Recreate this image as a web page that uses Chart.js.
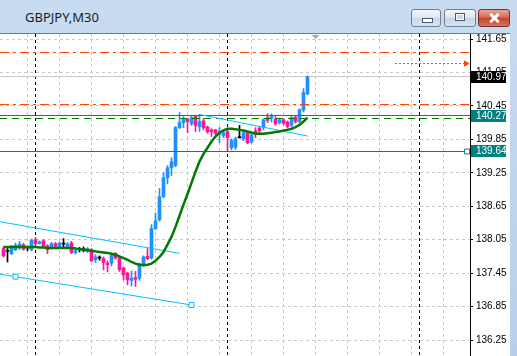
<!DOCTYPE html>
<html><head><meta charset="utf-8">
<script src="https://cdn.jsdelivr.net/npm/chart.js@4.4.1/dist/chart.umd.min.js"></script>
<style>
html,body{margin:0;padding:0;}
body{width:517px;height:356px;overflow:hidden;position:relative;background:linear-gradient(#c8dcf1,#b7cfe9);}
#title{position:absolute;left:25px;top:9px;font-size:13px;line-height:16px;color:#1b1b1b;font-family:"Noto Sans","Open Sans",sans-serif;}
.btn{position:absolute;top:9px;height:18px;border:1px solid #707f94;border-radius:3px;box-sizing:border-box;background:linear-gradient(#f4f7fb,#dce6f1 50%,#c6d5e7 51%,#d9e4f1);}
#bmin{left:411px;width:30px;}
#bmax{left:444px;width:32px;}
#bclose{left:478px;width:32px;border-color:#7a2e24;background:linear-gradient(#eba597,#d4654f 50%,#c2432d 51%,#da735b);}
.g1{position:absolute;left:10px;top:8px;width:9px;height:3px;background:#fff;border:1px solid #4a5a70;box-sizing:content-box;}
.g2{position:absolute;left:10px;top:3px;width:8px;height:6px;border:1px solid #4a5a70;background:#fff;}
.g2 i{position:absolute;left:1px;top:1px;width:6px;height:4px;background:#c9d6e6;}
.x1,.x2{position:absolute;left:14px;top:2px;width:3px;height:12px;background:#fff;border-radius:1px;}
.x1{transform:rotate(45deg);} .x2{transform:rotate(-45deg);}
#wrap{position:absolute;left:0;top:33px;width:510px;height:323px;background:#fff;border-top:1px solid #6f7b8a;box-sizing:border-box;}
#wrap canvas{position:absolute;left:0;top:0;}
</style>
</head>
<body>
<div id="title">GBPJPY,M30</div>
<div class="btn" id="bmin"><div class="g1"></div></div>
<div class="btn" id="bmax"><div class="g2"><i></i></div></div>
<div class="btn" id="bclose"><div class="x1"></div><div class="x2"></div></div>
<div id="wrap"><canvas id="c" width="510" height="322"></canvas></div>
<script>
// ---- data (M30 bars, oldest -> newest) ----
const opens  = [137.89,137.84,137.80,137.87,137.93,137.96,137.90,137.87,138.05,137.98,
                138.03,137.94,137.90,137.98,137.92,137.97,137.92,137.99,137.82,137.87,
                137.87,137.84,137.87,137.69,137.72,137.71,137.63,137.63,137.80,137.72,
                137.54,137.45,137.32,137.37,137.36,137.60,137.75,137.72,138.25,138.41,
                138.82,139.16,139.34,139.38,140.06,140.15,140.21,140.13,140.26,140.08,
                140.18,140.07,140.02,140.02,139.94,139.92,139.99,139.70,139.71,139.88,
                139.86,139.97,139.80,140.00,140.05,140.06,140.24,140.23,140.21,140.15,
                140.20,140.16,140.10,140.25,140.17,140.38,140.67];
const highs  = [137.92,137.90,137.95,137.99,138.02,137.98,137.93,138.06,138.09,138.03,
                138.05,137.96,138.00,138.00,138.01,138.07,138.00,138.02,137.87,137.91,
                137.92,137.91,137.89,137.78,137.76,137.74,137.67,137.80,137.82,137.74,
                137.56,137.47,137.49,137.48,137.63,137.76,137.89,138.32,138.53,138.97,
                139.25,139.38,139.52,140.08,140.33,140.26,140.23,140.27,140.28,140.30,
                140.22,140.09,140.04,140.03,140.06,140.00,140.01,139.86,139.89,140.10,
                140.00,139.99,139.95,140.06,140.08,140.22,140.31,140.31,140.26,140.23,
                140.22,140.18,140.26,140.28,140.40,140.76,140.99];
const lows   = [137.74,137.65,137.78,137.85,137.87,137.86,137.85,137.85,137.96,137.97,
                137.92,137.80,137.88,137.91,137.90,137.91,137.90,137.80,137.79,137.83,
                137.83,137.82,137.66,137.64,137.68,137.51,137.47,137.58,137.70,137.48,
                137.33,137.24,137.22,137.21,137.32,137.58,137.69,137.70,138.23,138.38,
                138.80,139.05,139.20,139.36,140.04,140.06,139.97,140.10,139.99,139.99,
                140.02,139.96,139.90,139.93,139.79,139.88,139.66,139.66,139.67,139.87,
                139.83,139.77,139.78,139.88,139.97,140.02,140.15,140.16,140.10,140.12,
                140.11,140.05,140.08,140.14,140.15,140.34,140.65];
const closes = [137.76,137.84,137.92,137.95,137.97,137.88,137.90,138.04,137.98,138.01,
                137.93,137.87,137.98,137.93,137.99,137.97,137.97,137.82,137.85,137.87,
                137.87,137.89,137.67,137.74,137.72,137.64,137.60,137.78,137.72,137.51,
                137.42,137.33,137.36,137.34,137.61,137.74,137.71,138.25,138.39,138.82,
                139.16,139.34,139.45,140.06,140.15,140.22,140.17,140.24,140.10,140.17,
                140.06,139.99,139.99,139.96,139.99,139.97,139.88,139.83,139.86,139.88,
                139.97,139.79,139.93,139.97,140.00,140.20,140.19,140.26,140.13,140.20,
                140.14,140.08,140.24,140.17,140.38,140.69,140.97];
// moving average (green), one value per bar
const maValues = [137.92,137.92,137.92,137.92,137.92,137.92,137.92,137.92,137.92,137.91,
                  137.91,137.90,137.90,137.90,137.90,137.90,137.90,137.90,137.89,137.88,
                  137.87,137.86,137.85,137.84,137.83,137.82,137.81,137.80,137.78,137.75,
                  137.72,137.69,137.65,137.62,137.60,137.59,137.60,137.62,137.67,137.74,
                  137.83,137.96,138.10,138.28,138.48,138.68,138.87,139.07,139.27,139.45,
                  139.59,139.70,139.81,139.90,139.97,140.01,140.04,140.04,140.03,140.02,
                  140.01,139.99,139.97,139.95,139.95,139.95,139.96,139.97,139.98,139.99,
                  140.01,140.02,140.04,140.07,140.11,140.17,140.24];
const barIdx = opens.map((_, i) => i);

// price axis
const yTicks = [141.65,141.05,140.45,139.85,139.25,138.65,138.05,137.45,136.85,136.25];
const yRange = [135.963, 141.740];
const xRange = [-0.875, 116.625];            // visible bar-index window
const vGridIdx = [6,14,22,30,38,46,54,62,70,78,86,94,102,110];
const separatorIdx = [8,56,104];             // day separators
const shiftIdx = 78;

// drawn objects
const trendUpperIdx = [-0.875, 44],  trendUpperPx = [138.372, 137.805];
const trendLowerIdx = [-0.875, 3, 47], trendLowerPx = [137.432, 137.386, 136.878];
const trendRightIdx = [49, 76],      trendRightPx = [140.296, 139.910];
const orangeLevels = [141.40, 140.48];
const greenLevel = 140.23;
const tealLevels = [140.27, 139.64];
const bidLevel = 140.97;
const arrowIdx = [97.9, 115.6], arrowLevel = 141.21;
const axisMarks = [{v:140.97,bg:'#000000'},{v:140.27,bg:'#008080'},{v:139.64,bg:'#008080'}];

// ---- build ----
const BULL='#1E90FF', BEAR='#FF1493', DOJI='#000000';
const colorOf = i => closes[i]>opens[i]?BULL:(closes[i]<opens[i]?BEAR:DOJI);
const barColors = barIdx.map(colorOf);
const full = (v) => [{x:xRange[0],y:v},{x:xRange[1],y:v}];
const pts = (ix, pv) => ix.map((x,i)=>({x, y:pv[i]}));
const FONT = '"Liberation Sans", Arial, sans-serif';

const mtPlugin = {
  id:'mt',
  beforeDatasetsDraw(chart){
    const {ctx, chartArea:a, scales:{x,y}} = chart;
    ctx.save();
    ctx.lineWidth=1;
    ctx.strokeStyle='#c9c9c9'; ctx.setLineDash([3,3]);
    yTicks.forEach(v=>{const p=Math.round(y.getPixelForValue(v)-0.5)+0.5;
      ctx.beginPath();ctx.moveTo(a.left,p);ctx.lineTo(a.right,p);ctx.stroke();});
    vGridIdx.forEach(k=>{const p=Math.round(x.getPixelForValue(k)-0.5)+0.5;
      ctx.beginPath();ctx.moveTo(p,a.top);ctx.lineTo(p,a.bottom);ctx.stroke();});
    ctx.strokeStyle='#000'; ctx.setLineDash([3,3]);
    separatorIdx.forEach(k=>{const p=Math.round(x.getPixelForValue(k)-0.5)+0.5;
      ctx.beginPath();ctx.moveTo(p,a.top);ctx.lineTo(p,a.bottom);ctx.stroke();});
    const sx=x.getPixelForValue(shiftIdx);
    ctx.fillStyle='#a8a8a8';ctx.beginPath();ctx.moveTo(sx-4,a.top+1);ctx.lineTo(sx+4,a.top+1);ctx.lineTo(sx,a.top+5);ctx.closePath();ctx.fill();
    ctx.restore();
  },
  // snap horizontal level lines onto whole pixels so they stay crisp
  beforeDatasetDraw(chart, args){
    const ds = chart.data.datasets[args.index];
    if (ds.snapLevel === undefined) return;
    const p = chart.scales.y.getPixelForValue(ds.snapLevel);
    chart.ctx.save();
    chart.ctx.translate(0, Math.round(p-0.5)+0.5-p);
  },
  afterDatasetDraw(chart, args){
    const ds = chart.data.datasets[args.index];
    if (ds.snapLevel === undefined) return;
    chart.ctx.restore();
  },
  afterDraw(chart){
    const {ctx, chartArea:a, scales:{y}} = chart;
    ctx.save();
    ctx.font='10px '+FONT;
    ctx.textBaseline='middle';
    axisMarks.forEach(m=>{
      const p=Math.round(y.getPixelForValue(m.v));
      ctx.fillStyle=m.bg; ctx.fillRect(a.right+1,p-6,35,12);
      ctx.fillStyle='#fff'; ctx.fillText(m.v.toFixed(2), a.right+6, p+0.5);
    });
    ctx.restore();
  }
};

const level = (v, color, dash, order) => ({type:'line', data:full(v), snapLevel:v, borderColor:color, borderWidth:1,
  borderDash:dash||[], pointRadius:0, order:order||0});

new Chart(document.getElementById('c'), {
  type:'bar',
  data:{datasets:[
    {type:'line', data:pts(barIdx, maValues), borderColor:'#007a00', borderWidth:2.5, pointRadius:0, order:0},
    {type:'line', data:pts(trendUpperIdx,trendUpperPx), borderColor:'#00BFFF', borderWidth:1, pointRadius:0, order:0},
    {type:'line', data:pts(trendLowerIdx,trendLowerPx), borderColor:'#00BFFF', borderWidth:1,
      pointRadius:[0,3.5,3.5], pointStyle:'rect', pointBackgroundColor:'#fff', pointBorderColor:'#00BFFF', pointBorderWidth:1, order:0},
    {type:'line', data:pts(trendRightIdx,trendRightPx), borderColor:'#00BFFF', borderWidth:1, pointRadius:0, order:0},
    level(orangeLevels[0], '#FF4500', [9,4,3,4]),
    level(orangeLevels[1], '#FF4500', [9,4,3,4]),
    level(tealLevels[0], '#008080'),
    level(greenLevel, '#008000', [7,5]),
    {type:'line', data:[{x:xRange[0],y:tealLevels[1]},{x:115.9,y:tealLevels[1]}], snapLevel:tealLevels[1], borderColor:'#008080', borderWidth:1,
      pointRadius:[0,3.5], pointStyle:'rect', pointBackgroundColor:'#fff', pointBorderColor:'#008080', order:0},
    level(bidLevel, '#c8c8c8', [], 5),
    {type:'line', data:pts(arrowIdx,[arrowLevel,arrowLevel]), snapLevel:arrowLevel, borderColor:'#FF4500', borderWidth:1, borderDash:[2,2],
      pointRadius:[0,3], pointStyle:'triangle', rotation:90, pointBackgroundColor:'#FF4500', pointBorderColor:'#FF4500', order:0},
    {type:'bar', data:barIdx.map(i=>({x:i,y:[opens[i],closes[i]]})), backgroundColor:barColors, barThickness:3, minBarLength:1, grouped:false, order:2},
    {type:'bar', data:barIdx.map(i=>({x:i,y:[lows[i],highs[i]]})), backgroundColor:barColors, barThickness:1, grouped:false, order:3}
  ]},
  options:{
    responsive:false, animation:false, events:[],
    layout:{padding:0, autoPadding:false},
    plugins:{legend:{display:false}, tooltip:{enabled:false}},
    scales:{
      x:{type:'linear', min:xRange[0], max:xRange[1], display:false, offset:false, bounds:'data'},
      y:{type:'linear', position:'right', min:yRange[0], max:yRange[1],
         afterBuildTicks:s=>{s.ticks=yTicks.map(v=>({value:v}));},
         afterFit:s=>{s.width=40; s.paddingTop=0; s.paddingBottom=0;},
         grid:{drawOnChartArea:false, drawTicks:true, tickLength:3, tickColor:'#000'},
         border:{display:true, color:'#000', width:1},
         ticks:{padding:3, color:'#000', font:{family:FONT, size:10}, callback:v=>v.toFixed(2)}
      }
    }
  },
  plugins:[mtPlugin]
});
</script>
</body></html>
